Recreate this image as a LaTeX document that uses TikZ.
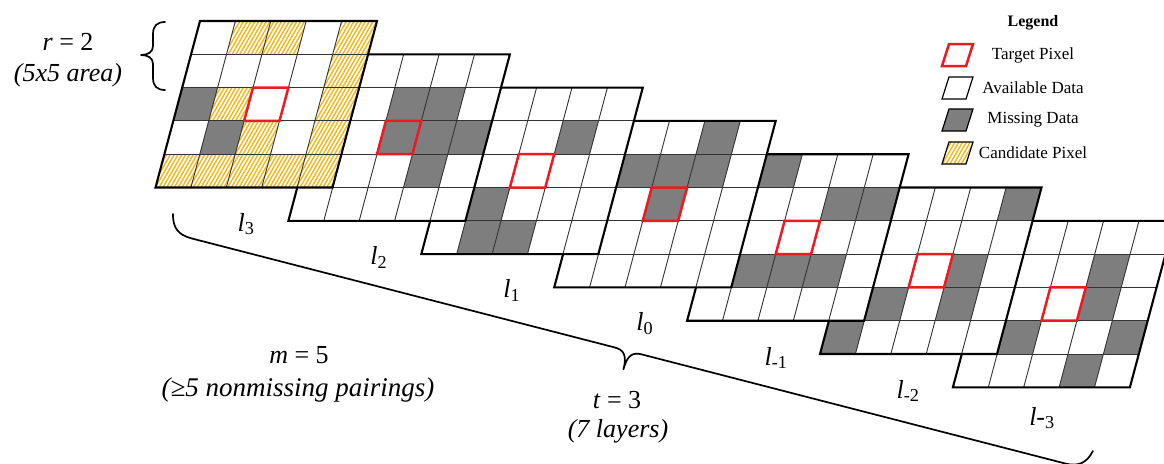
\documentclass[tikz,border=0pt]{standalone}
\usepackage{fontspec}
\setmainfont{Liberation Serif}
\usetikzlibrary{patterns.meta}

\definecolor{missgray}{RGB}{126,126,126}
\definecolor{candyellow}{RGB}{244,182,20}
\definecolor{targetred}{RGB}{236,26,34}

% cell geometry: width, shear per row, row height
\def\cw{35.4}
\def\cs{8.9}
\def\ch{33.3}

\tikzset{
  missing/.style={fill=missgray},
  candidate/.style={pattern={Lines[angle=60,distance=3.3pt,line width=1.4pt]},pattern color=candyellow},
  gridline/.style={draw=black!80,line width=0.9pt},
  layerborder/.style={draw=black,line width=2.1pt,line join=miter},
  targetbox/.style={draw=targetred,line width=2.5pt,line join=miter},
  layerlabel/.style={font=\fontsize{26}{30}\selectfont,inner sep=0pt},
  note/.style={font=\fontsize{26}{31}\selectfont,inner sep=0pt},
  legtext/.style={font=\fontsize{17}{20}\selectfont,inner sep=0pt},
  bracepath/.style={draw=black,line width=1.7pt,line cap=round,line join=round},
}

% white sheet of one layer and its missing cells (list of row/column)
\newcommand\layerbase[3]{%
  \begin{scope}[shift={(#1,#2)}]
    \fill[white] (0,0) -- (5*\cw,0) -- ++(-5*\cs,5*\ch) -- ++(-5*\cw,0) -- cycle;
    \foreach \r/\c in {#3} {
      \fill[missing] ({(\c-1)*\cw-(\r-1)*\cs},{(\r-1)*\ch}) -- ++(\cw,0) -- ++(-\cs,\ch) -- ++(-\cw,0) -- cycle;
    }
  \end{scope}}

% grid lines, outer border and the centre (target) cell of one layer
\newcommand\layerlines[2]{%
  \begin{scope}[shift={(#1,#2)}]
    \foreach \r in {1,...,4}
      \draw[gridline] ({-\r*\cs},{\r*\ch}) -- ++(5*\cw,0);
    \foreach \c in {1,...,4}
      \draw[gridline] ({\c*\cw},0) -- ++(-5*\cs,5*\ch);
    \draw[layerborder] (0,0) -- (5*\cw,0) -- ++(-5*\cs,5*\ch) -- ++(-5*\cw,0) -- cycle;
    \draw[targetbox] ({2*\cw-2*\cs},{2*\ch}) -- ++(\cw,0) -- ++(-\cs,\ch) -- ++(-\cw,0) -- cycle;
  \end{scope}}

\begin{document}
\begin{tikzpicture}[x=1pt,y=-1pt]
\useasboundingbox (0,0) rectangle (1164,463);
\clip (0,0) rectangle (1164,463);

% layers from back (l_{-3}) to front (l_3)
\layerbase{997.4}{220.8}{2/4,3/4,4/2,4/5,5/4}
\layerlines{997.4}{220.8}
\layerbase{864.5}{187.5}{1/5,3/4,4/2,4/4,5/1}
\layerlines{864.5}{187.5}
\layerbase{731.6}{154.2}{1/2,2/4,2/5,4/2,4/3,4/4}
\layerlines{731.6}{154.2}
\layerbase{598.7}{120.9}{1/4,2/2,2/3,2/4,3/3}
\layerlines{598.7}{120.9}
\layerbase{465.8}{87.6}{2/4,4/2,5/2,5/3}
\layerlines{465.8}{87.6}
\layerbase{332.9}{54.3}{2/3,2/4,3/3,3/4,3/5,4/4}
\layerlines{332.9}{54.3}
\layerbase{200}{21}{3/1,4/2}
\begin{scope}[shift={(200,21)}]
  \foreach \r/\c in {1/2,1/3,1/5,2/5,3/2,3/5,4/3,4/5,5/1,5/2,5/3,5/4,5/5} {
    \fill[candidate] ({(\c-1)*\cw-(\r-1)*\cs},{(\r-1)*\ch}) -- ++(\cw,0) -- ++(-\cs,\ch) -- ++(-\cw,0) -- cycle;
  }
\end{scope}
\layerlines{200}{21}

% layer names
\node[layerlabel] (lab3)  at (246,224)    {\textit{l}\textsubscript{3}};
\node[layerlabel] (lab2)  at (378.9,257.3) {\textit{l}\textsubscript{2}};
\node[layerlabel] (lab1)  at (511.8,290.6) {\textit{l}\textsubscript{1}};
\node[layerlabel] (lab0)  at (644.7,323.9) {\textit{l}\textsubscript{0}};
\node[layerlabel] (labm1) at (776,358)     {\textit{l}\textsubscript{-1}};
\node[layerlabel] (labm2) at (908,391)     {\textit{l}\textsubscript{-2}};
\node[layerlabel] (labm3) at (1042,418)    {\textit{l}-\textsubscript{3}};

% neighbourhood radius
\node[note] (rval)  at (68,42) {\textit{r} = 2};
\node[note] (rarea) at (68,75) {\textit{(5x5 area)}};
\draw[bracepath] (165,22) .. controls (157,22) and (153,26) .. (153,34) -- (153,46)
  .. controls (153,52) and (148,55) .. (141,55)
  .. controls (148,55) and (153,58) .. (153,64) -- (153,78)
  .. controls (153,86) and (157,90) .. (165,90);

% temporal window
\coordinate (tbraceL) at (173,214);
\coordinate (tbraceR) at (1093,451);
\begin{scope}[shift={(tbraceL)},rotate=-14.45]
  \draw[bracepath] (0,0) .. controls (3,13) and (10,19) .. (24,19) -- (461,19)
    .. controls (470,19) and (475,23) .. (475,38)
    .. controls (475,23) and (480,19) .. (489,19) -- (926,19)
    .. controls (940,19) and (947,13) .. (950,0);
\end{scope}
\node[note] (tval)  at (617,400) {\textit{t} = 3};
\node[note] (tlay)  at (618,431) {\textit{(7 layers)}};
\node[note] (mval)  at (299,355) {\textit{m} = 5};
\node[note,font=\fontsize{27}{31}\selectfont] (mpair) at (298,390) {\textit{(≥5 nonmissing pairings)}};

% legend
\node[legtext,font=\bfseries\fontsize{16}{19}\selectfont] (legtitle) at (1033,23) {Legend};
\draw[targetbox] (949,44) -- (973,44) -- (966,66) -- (942,66) -- cycle;
\node[legtext] (legtarget) at (1033,55) {Target Pixel};
\draw[line width=1.2pt,fill=white] (949,77) -- (973,77) -- (966,99) -- (942,99) -- cycle;
\node[legtext] (legavail) at (1033,88) {Available Data};
\draw[line width=1.2pt,fill=missgray] (949,109) -- (973,109) -- (966,131) -- (942,131) -- cycle;
\node[legtext] (legmiss) at (1033,120) {Missing Data};
\fill[white] (949,142) -- (973,142) -- (966,164) -- (942,164) -- cycle;
\draw[line width=1.2pt,candidate] (949,142) -- (973,142) -- (966,164) -- (942,164) -- cycle;
\node[legtext] (legcand) at (1033,153) {Candidate Pixel};
\end{tikzpicture}
\end{document}
